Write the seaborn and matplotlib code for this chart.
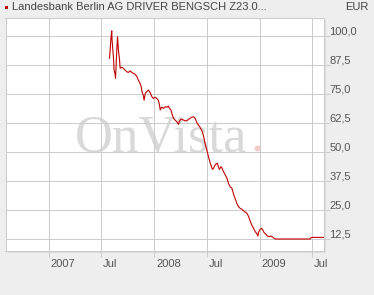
import matplotlib
matplotlib.use("Agg")
import matplotlib.pyplot as plt
import matplotlib.transforms as mtransforms
from matplotlib.patches import Rectangle
import seaborn as sns
import pandas as pd

# ---- data ----
dates = [
    "2007-07-29", "2007-07-31", "2007-08-03", "2007-08-06", "2007-08-07", "2007-08-12",
    "2007-08-14", "2007-08-17", "2007-08-19", "2007-08-24", "2007-08-26", "2007-08-29",
    "2007-09-02", "2007-09-04", "2007-09-10", "2007-09-15", "2007-09-21", "2007-09-27",
    "2007-10-03", "2007-10-09", "2007-10-14", "2007-10-20", "2007-10-26", "2007-11-01",
    "2007-11-06", "2007-11-12", "2007-11-16", "2007-11-19", "2007-11-23", "2007-11-26",
    "2007-11-30", "2007-12-05", "2007-12-11", "2007-12-17", "2007-12-23", "2007-12-28",
    "2008-01-03", "2008-01-09", "2008-01-15", "2008-01-18", "2008-01-21", "2008-01-23",
    "2008-01-26", "2008-02-01", "2008-02-07", "2008-02-13", "2008-02-18", "2008-02-22",
    "2008-02-27", "2008-03-01", "2008-03-07", "2008-03-12", "2008-03-18", "2008-03-24",
    "2008-03-27", "2008-04-01", "2008-04-05", "2008-04-10", "2008-04-16", "2008-04-22",
    "2008-04-28", "2008-05-03", "2008-05-09", "2008-05-15", "2008-05-21", "2008-05-27",
    "2008-06-01", "2008-06-07", "2008-06-13", "2008-06-18", "2008-06-24", "2008-06-30",
    "2008-07-06", "2008-07-12", "2008-07-18", "2008-07-21", "2008-07-26", "2008-07-31",
    "2008-08-06", "2008-08-09", "2008-08-13", "2008-08-18", "2008-08-22", "2008-08-27",
    "2008-09-02", "2008-09-08", "2008-09-13", "2008-09-19", "2008-09-25", "2008-09-30",
    "2008-10-06", "2008-10-12", "2008-10-18", "2008-10-24", "2008-10-30", "2008-11-04",
    "2008-11-10", "2008-11-16", "2008-11-21", "2008-11-27", "2008-12-03", "2008-12-09",
    "2008-12-15", "2008-12-20", "2008-12-24", "2008-12-27", "2009-01-01", "2009-01-06",
    "2009-01-10", "2009-01-15", "2009-01-21", "2009-01-26", "2009-02-01", "2009-02-07",
    "2009-02-14", "2009-02-22", "2009-06-23", "2009-06-27", "2009-08-08",
]
prices = [
    90.4, 93.2, 99.0, 102.2, 98.3, 90.4,
    85.3, 83.9, 81.8, 95.4, 99.7, 94.0,
    89.7, 86.1, 86.5, 86.1, 85.3, 84.6,
    84.3, 85.0, 84.3, 83.9, 83.5, 82.5,
    81.0, 79.6, 78.1, 75.9, 74.5, 72.3,
    75.3, 76.0, 76.7, 75.6, 73.8, 73.1,
    73.6, 73.1, 72.1, 70.3, 68.1, 68.8,
    69.3, 68.8, 69.5, 69.3, 69.8, 68.8,
    68.1, 66.7, 64.5, 63.8, 63.1, 61.9,
    63.1, 64.1, 64.1, 63.8, 63.4, 63.5,
    64.1, 64.5, 65.0, 65.2, 64.5, 62.6,
    61.6, 60.6, 59.2, 57.3, 53.8, 50.9,
    48.0, 45.2, 43.0, 42.5, 43.7, 44.7,
    45.2, 43.7, 42.5, 43.7, 43.0, 41.5,
    40.1, 38.7, 36.5, 35.0, 34.4, 32.2,
    30.0, 27.9, 26.4, 25.7, 25.3, 24.7,
    24.1, 23.6, 22.4, 20.4, 18.5, 17.1,
    15.6, 14.9, 13.8, 15.6, 16.7, 17.1,
    16.4, 15.2, 14.5, 13.8, 13.5, 13.8,
    13.2, 12.5, 12.5, 13.2, 13.2,
]
x_tick_dates = ["2007-01-01", "2007-07-01", "2008-01-01", "2008-07-01", "2009-01-01", "2009-07-01"]
x_tick_labels = ["2007", "Jul", "2008", "Jul", "2009", "Jul"]
y_ticks = [12.5, 25.0, 37.5, 50.0, 62.5, 75.0, 87.5, 100.0]
y_tick_labels = ["12,5", "25,0", "37,5", "50,0", "62,5", "75,0", "87,5", "100,0"]
title_text = "Landesbank Berlin AG DRIVER BENGSCH Z23.0..."
currency = "EUR"
watermark = "OnVista"

df = pd.DataFrame({"date": pd.to_datetime(dates), "price": prices})

# ---- figure ----
W, H = 374, 295
bg = "#eeeeee"
grid_c = "#cccccc"
txt_c = "#555555"
fig = plt.figure(figsize=(W / 100, H / 100), dpi=100, facecolor=bg)

L, R, T, B = 5.5, 324, 18, 251
ax = fig.add_axes([L / W, 1 - B / H, (R - L) / W, (B - T) / H])
ax.set_facecolor("white")

# soft shadow behind plot area
for off, c in [(2.0, "#dedede"), (1.0, "#d2d2d2")]:
    fig.patches.append(Rectangle(((L + off) / W, 1 - (B + off) / H), (R - L) / W, (B - T) / H,
                                 transform=fig.transFigure, facecolor=c, edgecolor="none", zorder=-5))

sns.lineplot(data=df, x="date", y="price", ax=ax, color="#c00000", linewidth=0.8, zorder=3)

ax.set_xlim(pd.Timestamp("2006-08-03"), pd.Timestamp("2009-08-10"))
ax.set_ylim(7.33, 107.76)
ax.set_xlabel("")
ax.set_ylabel("")

ax.set_axisbelow(True)
ax.grid(True, color=grid_c, linewidth=0.75)
for s in ax.spines.values():
    s.set_color(grid_c)
    s.set_linewidth(0.75)

ax.set_xticks(pd.to_datetime(x_tick_dates))
ax.set_xticklabels(x_tick_labels)
ax.yaxis.tick_right()
ax.set_yticks(y_ticks)
ax.set_yticklabels(y_tick_labels)
ax.tick_params(axis="both", colors=grid_c, labelcolor=txt_c, length=4.5, width=0.75,
               labelsize=8, pad=1)
for lab in ax.get_xticklabels():
    lab.set_fontfamily("Liberation Sans")
    lab.set_horizontalalignment("left")
    lab.set_transform(lab.get_transform() + mtransforms.ScaledTranslation(1.5 / 100, 0, fig.dpi_scale_trans))
for lab in ax.get_yticklabels():
    lab.set_fontfamily("Liberation Sans")
    lab.set_verticalalignment("bottom")
    lab.set_transform(lab.get_transform() + mtransforms.ScaledTranslation(-2.5 / 100, 0, fig.dpi_scale_trans))

# watermark (inside the axes, under the grid)
wm_tr = fig.transFigure
ax.text(75 / W, 1 - 152 / H, watermark, transform=wm_tr, fontsize=38, family="Liberation Serif",
        color="#d9d9d9", ha="left", va="baseline", zorder=0.2)
ax.text(250 / W, 1 - 152 / H, ".", transform=wm_tr, fontsize=38, family="Liberation Serif",
        color="#f2caca", ha="left", va="baseline", zorder=0.2)

# title
fig.patches.append(Rectangle((5 / W, 1 - 8.5 / H), 3 / W, 3 / H, transform=fig.transFigure,
                             facecolor="#c00000", edgecolor="none"))
fig.text(12 / W, 1 - 7 / H, title_text, fontsize=8, family="Liberation Sans",
         color="#444444", ha="left", va="center")
fig.text(368 / W, 1 - 7 / H, currency, fontsize=8, family="Liberation Sans",
         color="#444444", ha="right", va="center")

fig.savefig("out.png", dpi=100, facecolor=bg)
